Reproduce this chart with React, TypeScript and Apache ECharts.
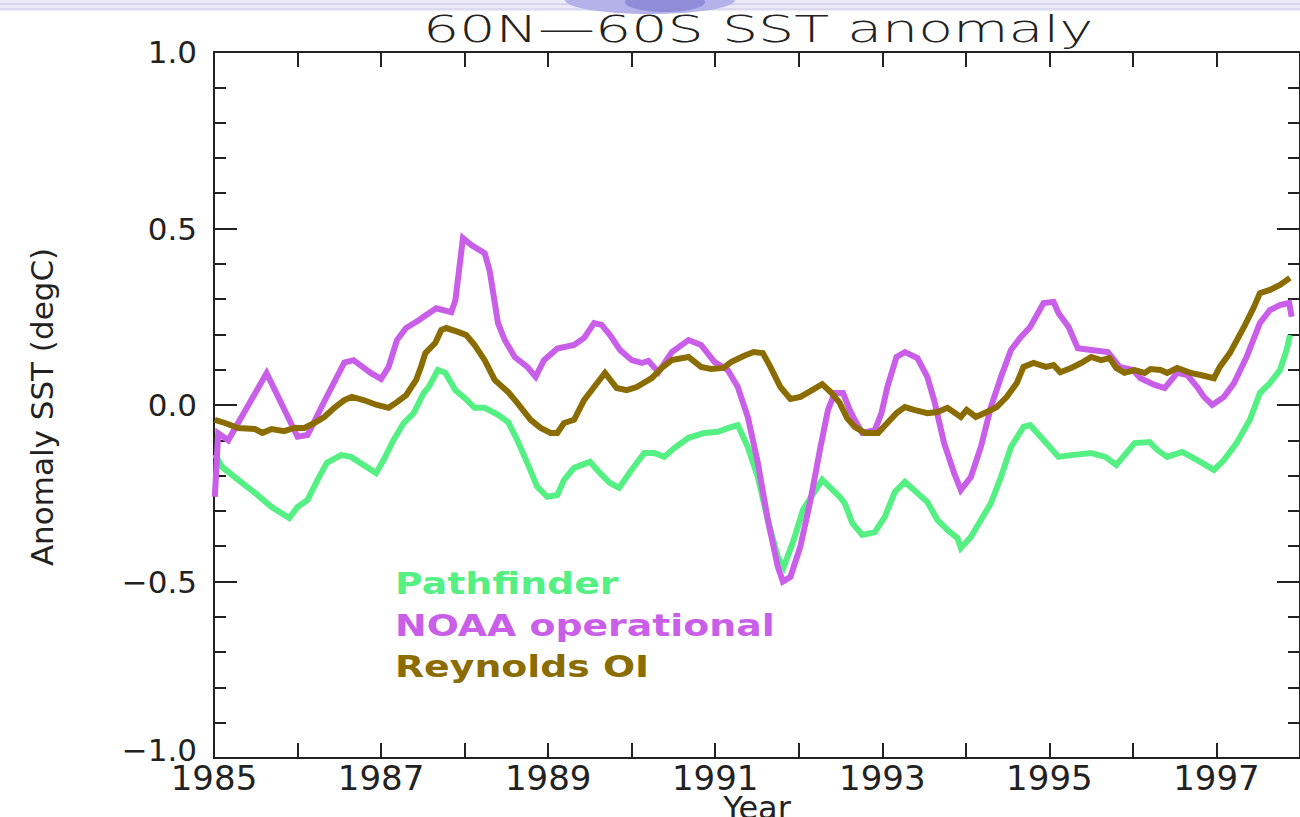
import React, { useEffect, useRef } from "react";
import * as echarts from "echarts";

// ---- data ----
const xTickYears = [1985, 1987, 1989, 1991, 1993, 1995, 1997];
const yTickValues = [-1.0, -0.5, 0.0, 0.5, 1.0];
const seriesNames = ["Pathfinder", "NOAA operational", "Reynolds OI"];

const pathfinderYears = [
  1985.01, 1985.1, 1985.29, 1985.49, 1985.69, 1985.9, 1986.0, 1986.12, 1986.24, 1986.35, 1986.52, 1986.64,
  1986.79, 1986.94, 1987.03, 1987.15, 1987.27, 1987.39, 1987.51, 1987.57, 1987.68, 1987.77, 1987.89, 1988.0,
  1988.12, 1988.24, 1988.4, 1988.52, 1988.63, 1988.75, 1988.87, 1988.99, 1989.11, 1989.19, 1989.31, 1989.5,
  1989.61, 1989.74, 1989.85, 1989.98, 1990.15, 1990.27, 1990.39, 1990.51, 1990.68, 1990.87, 1991.03, 1991.16,
  1991.27, 1991.39, 1991.51, 1991.63, 1991.75, 1991.82, 1991.94, 1992.05, 1992.18, 1992.28, 1992.38, 1992.49,
  1992.55, 1992.64, 1992.76, 1992.91, 1993.03, 1993.15, 1993.27, 1993.38, 1993.54, 1993.66, 1993.78, 1993.9,
  1993.94, 1994.06, 1994.18, 1994.3, 1994.42, 1994.54, 1994.69, 1994.77, 1994.93, 1995.11, 1995.26, 1995.5,
  1995.67, 1995.8, 1995.9, 1996.02, 1996.2, 1996.29, 1996.41, 1996.59, 1996.77, 1996.97, 1997.09, 1997.24,
  1997.4, 1997.52, 1997.64, 1997.76, 1997.84, 1997.88,
];
const pathfinderValues = [
  -0.14, -0.176, -0.212, -0.249, -0.289, -0.32, -0.289, -0.269, -0.212, -0.164, -0.142, -0.147,
  -0.17, -0.193, -0.156, -0.099, -0.051, -0.023, 0.034, 0.051, 0.099, 0.091, 0.042, 0.02,
  -0.008, -0.008, -0.028, -0.048, -0.099, -0.164, -0.232, -0.26, -0.255, -0.212, -0.178, -0.161,
  -0.19, -0.221, -0.235, -0.19, -0.136, -0.136, -0.147, -0.122, -0.093, -0.079, -0.076, -0.065,
  -0.057, -0.119, -0.204, -0.326, -0.431, -0.459, -0.382, -0.297, -0.249, -0.212, -0.235, -0.26,
  -0.278, -0.334, -0.368, -0.36, -0.317, -0.246, -0.218, -0.241, -0.275, -0.326, -0.354, -0.377,
  -0.405, -0.374, -0.326, -0.278, -0.204, -0.119, -0.062, -0.057, -0.099, -0.147, -0.142, -0.136,
  -0.147, -0.17, -0.142, -0.108, -0.105, -0.127, -0.147, -0.133, -0.156, -0.184, -0.156, -0.108,
  -0.042, 0.034, 0.062, 0.099, 0.156, 0.198,
];

const noaaYears = [
  1985.01, 1985.05, 1985.17, 1985.63, 1986.0, 1986.12, 1986.32, 1986.56, 1986.67, 1986.88, 1987.0, 1987.09,
  1987.19, 1987.3, 1987.45, 1987.51, 1987.66, 1987.84, 1987.89, 1987.98, 1988.08, 1988.24, 1988.3, 1988.4,
  1988.48, 1988.6, 1988.75, 1988.85, 1988.95, 1989.11, 1989.31, 1989.43, 1989.55, 1989.64, 1989.74, 1989.86,
  1990.0, 1990.12, 1990.2, 1990.32, 1990.48, 1990.68, 1990.83, 1990.99, 1991.15, 1991.27, 1991.39, 1991.51,
  1991.63, 1991.75, 1991.81, 1991.9, 1992.02, 1992.14, 1992.26, 1992.35, 1992.43, 1992.53, 1992.61, 1992.67,
  1992.76, 1992.91, 1992.99, 1993.06, 1993.17, 1993.27, 1993.42, 1993.54, 1993.62, 1993.74, 1993.86, 1993.94,
  1994.06, 1994.18, 1994.3, 1994.42, 1994.54, 1994.66, 1994.77, 1994.93, 1995.05, 1995.11, 1995.23, 1995.34,
  1995.5, 1995.7, 1995.84, 1996.0, 1996.09, 1996.26, 1996.38, 1996.53, 1996.65, 1996.77, 1996.85, 1996.95,
  1997.09, 1997.21, 1997.36, 1997.52, 1997.64, 1997.76, 1997.87, 1997.9,
];
const noaaValues = [
  -0.26, -0.08, -0.1, 0.09, -0.09, -0.085, 0.01, 0.12, 0.127, 0.09, 0.074, 0.108,
  0.184, 0.218, 0.24, 0.25, 0.274, 0.263, 0.297, 0.473, 0.453, 0.43, 0.38, 0.232,
  0.184, 0.136, 0.108, 0.08, 0.127, 0.16, 0.17, 0.19, 0.232, 0.227, 0.198, 0.156,
  0.127, 0.119, 0.125, 0.093, 0.15, 0.184, 0.17, 0.122, 0.099, 0.051, -0.034, -0.164,
  -0.326, -0.459, -0.5, -0.487, -0.4, -0.27, -0.119, -0.014, 0.034, 0.034, -0.014, -0.042,
  -0.079, -0.071, -0.023, 0.051, 0.136, 0.15, 0.133, 0.079, 0.014, -0.108, -0.193, -0.241,
  -0.204, -0.119, -0.006, 0.079, 0.156, 0.193, 0.221, 0.289, 0.292, 0.26, 0.221, 0.161,
  0.156, 0.15, 0.108, 0.099, 0.076, 0.057, 0.048, 0.091, 0.085, 0.051, 0.023, 0.0,
  0.023, 0.062, 0.136, 0.232, 0.269, 0.283, 0.289, 0.25,
];

const reynoldsYears = [
  1985.01, 1985.13, 1985.29, 1985.49, 1985.58, 1985.69, 1985.84, 1985.96, 1986.08, 1986.2, 1986.32, 1986.44,
  1986.56, 1986.65, 1986.79, 1986.95, 1987.09, 1987.19, 1987.3, 1987.42, 1987.48, 1987.53, 1987.65, 1987.72,
  1987.78, 1987.92, 1988.02, 1988.12, 1988.24, 1988.36, 1988.52, 1988.63, 1988.79, 1988.91, 1989.03, 1989.11,
  1989.19, 1989.31, 1989.43, 1989.55, 1989.68, 1989.82, 1989.94, 1990.06, 1990.24, 1990.36, 1990.48, 1990.68,
  1990.83, 1990.95, 1991.1, 1991.19, 1991.34, 1991.46, 1991.57, 1991.66, 1991.78, 1991.9, 1992.02, 1992.16,
  1992.28, 1992.38, 1992.49, 1992.58, 1992.67, 1992.79, 1992.95, 1993.06, 1993.17, 1993.27, 1993.38, 1993.54,
  1993.66, 1993.78, 1993.94, 1994.01, 1994.12, 1994.25, 1994.37, 1994.49, 1994.61, 1994.69, 1994.81, 1994.96,
  1995.05, 1995.13, 1995.26, 1995.38, 1995.5, 1995.62, 1995.72, 1995.8, 1995.9, 1996.02, 1996.14, 1996.21,
  1996.33, 1996.41, 1996.53, 1996.69, 1996.81, 1996.97, 1997.04, 1997.16, 1997.33, 1997.45, 1997.52, 1997.64,
  1997.76, 1997.88,
];
const reynoldsValues = [
  -0.042, -0.051, -0.065, -0.068, -0.079, -0.068, -0.074, -0.065, -0.065, -0.051, -0.034, -0.008,
  0.014, 0.023, 0.014, 0.0, -0.008, 0.008, 0.028, 0.071, 0.11, 0.147, 0.176, 0.212,
  0.218, 0.207, 0.198, 0.17, 0.127, 0.071, 0.037, 0.006, -0.042, -0.065, -0.079, -0.079,
  -0.051, -0.042, 0.014, 0.051, 0.091, 0.048, 0.042, 0.051, 0.076, 0.105, 0.127, 0.136,
  0.108, 0.102, 0.105, 0.122, 0.139, 0.15, 0.147, 0.108, 0.051, 0.017, 0.023, 0.042,
  0.059, 0.037, 0.006, -0.038, -0.062, -0.079, -0.079, -0.051, -0.023, -0.006, -0.014, -0.023,
  -0.02, -0.008, -0.034, -0.014, -0.034, -0.02, -0.006, 0.023, 0.062, 0.108, 0.119, 0.108,
  0.113, 0.093, 0.105, 0.119, 0.136, 0.127, 0.133, 0.105, 0.091, 0.099, 0.091, 0.102,
  0.099, 0.091, 0.105, 0.091, 0.085, 0.076, 0.108, 0.147, 0.221, 0.278, 0.317, 0.326,
  0.34, 0.36,
];

const COLORS = ["#55f083", "#c95ee9", "#8a6c00"];

const zip = (xs: number[], ys: number[]) => xs.map((x, i) => [x, ys[i]]);

export default function App() {
  const ref = useRef<HTMLDivElement>(null);

  useEffect(() => {
    document.body.style.margin = "0";
    const chart = echarts.init(ref.current!, null, { renderer: "svg" });
    const axisColor = "#222";
    const fontFamily = "DejaVu Sans";
    const fmtY = (v: number) => {
      const s = Math.abs(v).toFixed(1);
      const txt = v < -1e-9 ? "\u2212" + s : s;
      // lowest label sits a little above its tick (as in the reference)
      return Math.abs(v - yTickValues[0]) < 1e-9 ? `{low|${txt}}` : txt;
    };
    const showX = (v: number) => xTickYears.includes(Math.round(v));

    const legendY = [583, 625, 666];

    chart.setOption({
      animation: false,
      backgroundColor: "#ffffff",
      grid: { left: 214, top: 52, right: -7, bottom: 59, containLabel: false },
      xAxis: [
        {
          type: "value",
          min: 1985,
          max: 1998,
          interval: 1,
          position: "bottom",
          axisLine: { show: true, onZero: false, lineStyle: { color: axisColor, width: 2 } },
          axisTick: { show: true, inside: true, length: 15, lineStyle: { color: axisColor, width: 2 } },
          axisLabel: {
            show: true,
            margin: 3,
            fontSize: 34,
            fontFamily,
            color: "#222",
            formatter: (v: number) => (showX(v) ? String(Math.round(v)) : ""),
            showMaxLabel: false,
          },
          splitLine: { show: false },
        },
        {
          type: "value",
          min: 1985,
          max: 1998,
          interval: 1,
          position: "top",
          axisLine: { show: true, onZero: false, lineStyle: { color: axisColor, width: 2 } },
          axisTick: { show: true, inside: true, length: 15, lineStyle: { color: axisColor, width: 2 } },
          axisLabel: { show: false },
          splitLine: { show: false },
        },
      ],
      yAxis: [
        {
          type: "value",
          min: -1,
          max: 1,
          interval: 0.5,
          position: "left",
          axisLine: { show: true, onZero: false, lineStyle: { color: axisColor, width: 2 } },
          axisTick: { show: true, inside: true, length: 23, lineStyle: { color: axisColor, width: 2 } },
          minorTick: { show: true, splitNumber: 5, length: 12, lineStyle: { color: axisColor, width: 2 } },
          axisLabel: {
            show: true,
            margin: 17,
            fontSize: 31,
            fontFamily,
            color: "#222",
            formatter: (v: number) => fmtY(v),
            rich: {
              low: { fontSize: 31, fontFamily, color: "#222", padding: [0, 0, 16, 0] },
            },
          },
          splitLine: { show: false },
          minorSplitLine: { show: false },
        },
        {
          type: "value",
          min: -1,
          max: 1,
          interval: 0.5,
          position: "right",
          axisLine: { show: true, onZero: false, lineStyle: { color: axisColor, width: 2 } },
          axisTick: { show: true, inside: true, length: 23, lineStyle: { color: axisColor, width: 2 } },
          minorTick: { show: true, splitNumber: 5, length: 12, lineStyle: { color: axisColor, width: 2 } },
          axisLabel: { show: false },
          splitLine: { show: false },
          minorSplitLine: { show: false },
        },
      ],
      series: [
        { name: seriesNames[0], data: zip(pathfinderYears, pathfinderValues), color: COLORS[0] },
        { name: seriesNames[1], data: zip(noaaYears, noaaValues), color: COLORS[1] },
        { name: seriesNames[2], data: zip(reynoldsYears, reynoldsValues), color: COLORS[2] },
      ].map((s) => ({
        type: "line",
        name: s.name,
        data: s.data,
        showSymbol: false,
        symbol: "none",
        clip: true,
        lineStyle: { color: s.color, width: 6, join: "miter" },
        itemStyle: { color: s.color },
        z: 3,
      })),
      graphic: [
        // slide banner remnants at the very top
        { type: "rect", shape: { x: 0, y: 0, width: 1300, height: 11 }, style: { fill: "#eceaf6" }, silent: true },
        { type: "rect", shape: { x: 0, y: 3, width: 1300, height: 2 }, style: { fill: "#d6d4ec" }, silent: true },
        { type: "rect", shape: { x: 0, y: 8, width: 1300, height: 2 }, style: { fill: "#dcdaf0" }, silent: true },
        { type: "ellipse", shape: { cx: 650, cy: 0, rx: 85, ry: 14 }, style: { fill: "#b4b2e8" }, silent: true },
        { type: "ellipse", shape: { cx: 665, cy: 2, rx: 40, ry: 10 }, style: { fill: "#8f8cd8" }, silent: true },
        // title
        {
          type: "text",
          x: 758,
          y: 29,
          scaleX: 1.5,
          style: {
            text: "60N\u201460S SST anomaly",
            font: `200 38px "${fontFamily}"`,
            fill: "#222",
            textAlign: "center",
            textVerticalAlign: "middle",
          },
          z: 10,
        },
        // y axis title
        {
          type: "text",
          x: 42,
          y: 407,
          rotation: Math.PI / 2,
          style: {
            text: "Anomaly SST (degC)",
            font: `31px "${fontFamily}"`,
            fill: "#222",
            textAlign: "center",
            textVerticalAlign: "middle",
          },
          z: 10,
        },
        // x axis title (partly cut by the bottom edge, as in the reference)
        {
          type: "text",
          x: 757,
          y: 808,
          style: {
            text: "Year",
            font: `32px "${fontFamily}"`,
            fill: "#222",
            textAlign: "center",
            textVerticalAlign: "middle",
          },
          z: 10,
        },
        // in-plot legend
        ...seriesNames.map((name, i) => ({
          type: "text",
          x: 395,
          y: legendY[i],
          scaleX: 1.22,
          style: {
            text: name,
            font: `bold 31px "${fontFamily}"`,
            fill: COLORS[i],
            textAlign: "left",
            textVerticalAlign: "middle",
          },
          z: 10,
        })),
      ],
    });
    return () => chart.dispose();
  }, []);

  return <div ref={ref} style={{ position: "fixed", left: 0, top: 0, width: 1300, height: 817 }} />;
}
